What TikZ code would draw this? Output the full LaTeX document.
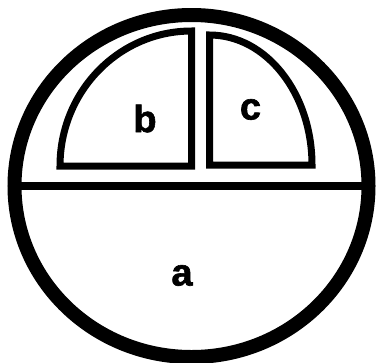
\documentclass[tikz,border=0pt]{standalone}
\usepackage{fontspec}
\setmainfont{Liberation Sans}
\newfontfamily\heavyfont{Liberation Sans Bold}[FakeBold=1.6]
\usepackage{tikz}

\begin{document}
\begin{tikzpicture}[x=1pt, y=-1pt,
  rim/.style={draw, line width=14pt},
  divider/.style={draw, line width=8pt},
  chamber/.style={draw, line width=7pt, line join=miter},
  tag/.style={font=\heavyfont\fontsize{38}{38}\selectfont, inner sep=0pt},
]
  \useasboundingbox (0,0) rectangle (379,362);

  % cell and its floor
  \draw[divider] (14,186) -- (369,186);
  \draw[rim] (191.5,186) ellipse [x radius=177, y radius=171];

  % upper chambers
  \draw[chamber] (191.5,166) -- (191.5,31) arc[start angle=270, end angle=180, x radius=131.5, y radius=135] -- cycle;
  \draw[chamber] (209.5,165) -- (209.5,35) arc[start angle=270, end angle=360, x radius=102.5, y radius=130] -- cycle;

  \node[tag] (a) at (182,275.5) {a};
  \node[tag] (b) at (145,118.5) {b};
  \node[tag] (c) at (250.5,109.5) {c};
\end{tikzpicture}
\end{document}
